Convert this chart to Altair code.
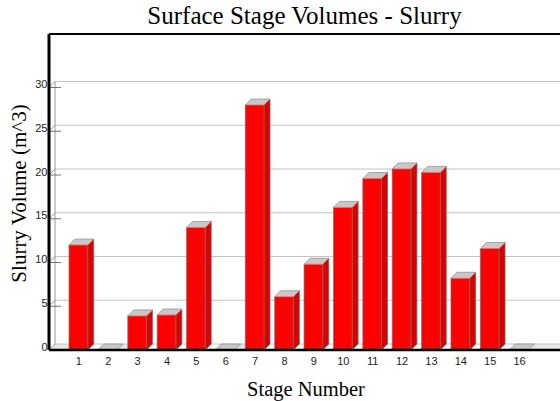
import altair as alt
import pandas as pd

# ---- data ----
stages = list(range(1, 17))
volumes = [12.0, 0.0, 3.9, 4.0, 14.0, 0.0, 28.0, 6.1, 9.8, 16.3, 19.6, 20.7, 20.3, 8.2, 11.6, 0.0]
y_ticks = [0, 5, 10, 15, 20, 25, 30]

# ---- geometry (style) ----
W, H = 511, 316
PX_Y = 8.75          # pixels per m^3
PX_X = 29.38         # pixels per stage
Y_MAX = H / PX_Y
X_MAX = W / PX_X
DX = 6 / PX_X        # depth offset in stage units
DY = 6 / PX_Y        # depth offset in volume units
HALF = 9.35 / PX_X   # half bar width
TICK = 12 / PX_X
SHADOW = 8 / PX_X

FRONT = "#ff0000"
SIDE = "#dc0000"
CAP = "#c8c8c8"
EDGE = "#6e6e6e"
GRID = "#c4c4c4"

xs = alt.Scale(domain=[0, X_MAX], nice=False, zero=False)
ys = alt.Scale(domain=[0, Y_MAX], nice=False, zero=False)

df = pd.DataFrame({"stage": stages, "volume": volumes})

side_rows, cap_rows, shadow_rows = [], [], []
for s, v in zip(stages, volumes):
    if v > 0:
        side_rows.append(dict(stage=s, x=s + HALF, top=v, bot=0.0))
        side_rows.append(dict(stage=s, x=s + HALF + DX, top=v + DY, bot=DY))
        shadow_rows.append(dict(stage=s, y=0.0, xl=s + HALF, xr=s + HALF + SHADOW))
        shadow_rows.append(dict(stage=s, y=DY, xl=s + HALF + DX, xr=s + HALF + DX + SHADOW))
    cap_rows.append(dict(stage=s, y=v, xl=s - HALF, xr=s + HALF))
    cap_rows.append(dict(stage=s, y=v + DY, xl=s - HALF + DX, xr=s + HALF + DX))
side_df = pd.DataFrame(side_rows)
cap_df = pd.DataFrame(cap_rows)
shadow_df = pd.DataFrame(shadow_rows)

tick_df = pd.DataFrame({"tick": y_ticks})
floor_df = pd.DataFrame({"y": [0.0, DY], "xl": [0.0, DX], "xr": [X_MAX, X_MAX]})
frame_df = pd.DataFrame({"x0": [0.0], "x1": [X_MAX], "y0": [0.0], "y1": [Y_MAX],
                         "wy0": [DY], "wy1": [30 + DY], "wx": [DX]})

# axes layer (invisible points carry the axes)
axes = alt.Chart(df).mark_point(opacity=0).encode(
    x=alt.X("stage:Q", scale=xs, axis=alt.Axis(
        values=stages, format="d", grid=False, ticks=False, tickSize=0, domain=False,
        labelFont="Liberation Sans", labelFontSize=11, labelColor="#222222", labelPadding=5,
        title="Stage Number", titleFont="Liberation Serif", titleFontSize=20.5,
        titleFontWeight="normal", titleColor="black", titleBaseline="alphabetic",
        titleY=45, titleX=W / 2 + 1, titleAlign="center")),
    y=alt.Y("volume:Q", scale=ys, axis=alt.Axis(
        values=y_ticks, grid=False, ticks=False, tickSize=0, domain=False,
        labelFont="Liberation Sans", labelFontSize=11, labelColor="#222222", labelPadding=2,
        labelOffset=-3,
        title="Slurry Volume (m^3)", titleFont="Liberation Serif", titleFontSize=21,
        titleFontWeight="normal", titleColor="black", titleAngle=270,
        titleBaseline="alphabetic", titleAlign="center", titleX=-24, titleY=159)),
)

floor = alt.Chart(floor_df).mark_area(orient="horizontal", fill="#e6e6e6").encode(
    y=alt.Y("y:Q", scale=ys, axis=None),
    x=alt.X("xl:Q", scale=xs, axis=None), x2="xr:Q")

shadow = alt.Chart(shadow_df).mark_area(orient="horizontal", fill="white").encode(
    y=alt.Y("y:Q", scale=ys, axis=None),
    x=alt.X("xl:Q", scale=xs, axis=None), x2="xr:Q",
    detail="stage:N")

grid = alt.Chart(tick_df).transform_calculate(
    back=f"datum.tick + {DY}", gx0=f"{DX}", gx1=f"{X_MAX}"
).mark_rule(color=GRID, strokeWidth=1).encode(
    y=alt.Y("back:Q", scale=ys, axis=None),
    x=alt.X("gx0:Q", scale=xs, axis=None), x2="gx1:Q")

diag = alt.Chart(tick_df).transform_calculate(
    back=f"datum.tick + {DY}", gx0="0", gx1=f"{DX}"
).mark_rule(color="#9a9a9a", strokeWidth=1).encode(
    y=alt.Y("tick:Q", scale=ys, axis=None), y2="back:Q",
    x=alt.X("gx0:Q", scale=xs, axis=None), x2="gx1:Q")

ticks = alt.Chart(tick_df).transform_calculate(
    gx0="0", gx1=f"{TICK}"
).mark_rule(color="#777777", strokeWidth=1).encode(
    y=alt.Y("tick:Q", scale=ys, axis=None),
    x=alt.X("gx0:Q", scale=xs, axis=None), x2="gx1:Q")

wall = alt.Chart(frame_df).mark_rule(color="#9a9a9a", strokeWidth=1).encode(
    x=alt.X("wx:Q", scale=xs, axis=None),
    y=alt.Y("wy0:Q", scale=ys, axis=None), y2="wy1:Q")

side = alt.Chart(side_df).mark_area(fill=SIDE, stroke=EDGE, strokeWidth=0.7).encode(
    x=alt.X("x:Q", scale=xs, axis=None),
    y=alt.Y("top:Q", scale=ys, axis=None), y2="bot:Q",
    detail="stage:N")

front = alt.Chart(df).transform_filter("datum.volume > 0").transform_calculate(
    x1=f"datum.stage - {HALF}", x2=f"datum.stage + {HALF}", zero="0"
).mark_rect(fill=FRONT, stroke=EDGE, strokeWidth=0.7).encode(
    x=alt.X("x1:Q", scale=xs, axis=None), x2="x2:Q",
    y=alt.Y("zero:Q", scale=ys, axis=None), y2="volume:Q")

cap = alt.Chart(cap_df).mark_area(orient="horizontal", fill=CAP, stroke="#8a8a8a",
                                  strokeWidth=0.7).encode(
    y=alt.Y("y:Q", scale=ys, axis=None),
    x=alt.X("xl:Q", scale=xs, axis=None), x2="xr:Q",
    detail="stage:N")

left_line = alt.Chart(frame_df).mark_rule(color="black", strokeWidth=3).encode(
    x=alt.X("x0:Q", scale=xs, axis=None),
    y=alt.Y("y0:Q", scale=ys, axis=None), y2="y1:Q")
bottom_line = alt.Chart(frame_df).mark_rule(color="black", strokeWidth=2.5).encode(
    y=alt.Y("y0:Q", scale=ys, axis=None),
    x=alt.X("x0:Q", scale=xs, axis=None), x2="x1:Q")
top_line = alt.Chart(frame_df).mark_rule(color="black", strokeWidth=2).encode(
    y=alt.Y("y1:Q", scale=ys, axis=None),
    x=alt.X("x0:Q", scale=xs, axis=None), x2="x1:Q")

chart = alt.layer(
    floor, shadow, grid, diag, wall, ticks, side, front, cap,
    left_line, bottom_line, top_line, axes
).resolve_axis(x="independent", y="independent").properties(
    width=W, height=H,
    title=alt.TitleParams("Surface Stage Volumes - Slurry", font="Liberation Serif",
                          fontSize=25, fontWeight="normal", color="black",
                          anchor="middle", offset=4),
    padding={"left": 49, "top": 34, "right": 0, "bottom": 51},
    autosize=alt.AutoSizeParams(type="none"),
).configure_view(stroke=None).configure(background="white")

chart.save("out.html", embed_options={"renderer": "svg", "actions": False})
